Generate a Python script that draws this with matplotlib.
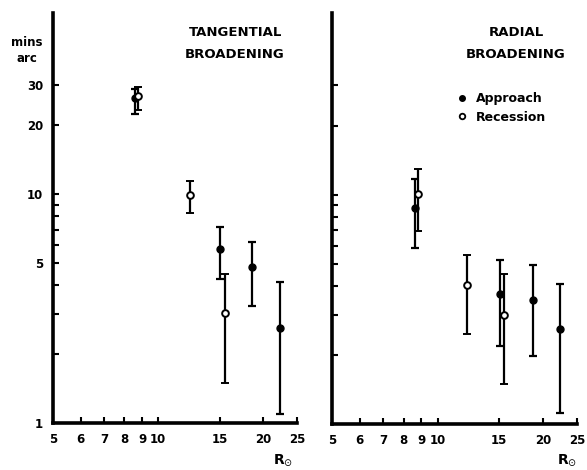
import matplotlib
matplotlib.use("Agg")
import matplotlib.pyplot as plt
from matplotlib.lines import Line2D
from matplotlib.ticker import FixedLocator, FixedFormatter, NullLocator
import numpy as np

# ---- data ----
tang_app_x = [8.6, 15.0, 18.6, 22.3]
tang_app_y = [26.4, 5.74, 4.8, 2.6]
tang_app_lo = [22.4, 4.24, 3.24, 1.1]
tang_app_hi = [28.9, 7.17, 6.2, 4.12]

tang_rec_x = [8.75, 12.35, 15.55]
tang_rec_y = [26.9, 9.9, 3.03]
tang_rec_lo = [23.4, 8.28, 1.49]
tang_rec_hi = [29.4, 11.4, 4.5]

rad_app_x = [8.62, 15.07, 18.7, 22.3]
rad_app_y = [8.73, 3.7, 3.49, 2.6]
rad_app_lo = [5.85, 2.18, 1.98, 1.12]
rad_app_hi = [11.76, 5.18, 4.96, 4.09]

rad_rec_x = [8.78, 12.1, 15.5]
rad_rec_y = [10.1, 4.04, 2.98]
rad_rec_lo = [6.96, 2.48, 1.49]
rad_rec_hi = [13.0, 5.48, 4.49]

x_ticks = [5, 6, 7, 8, 9, 10, 15, 20, 25]
y_ticks = [1, 2, 3, 4, 5, 6, 7, 8, 9, 10, 20, 30]
y_labels = ["1", "", "", "", "5", "", "", "", "", "10", "20", "30"]

plt.rcParams['font.family'] = ['DejaVu Sans']
fig = plt.figure(figsize=(5.87, 4.70), dpi=100)

W, H = 587.0, 470.0
axL = fig.add_axes([53 / W, 47 / H, 244 / W, 410 / H])
axR = fig.add_axes([332 / W, 46 / H, 245 / W, 411 / H])


def err(y, lo, hi):
    y = np.array(y); lo = np.array(lo); hi = np.array(hi)
    return [y - lo, hi - y]


def draw(ax, ax_, ay, alo, ahi, rx, ry, rlo, rhi, ylabels):
    ax.errorbar(ax_, ay, yerr=err(ay, alo, ahi), fmt='o', color='black',
                markersize=5, markerfacecolor='black', ecolor='black',
                elinewidth=1.6, capsize=2.8, capthick=1.6)
    ax.errorbar(rx, ry, yerr=err(ry, rlo, rhi), fmt='o', color='black',
                markersize=4.8, markerfacecolor='white', markeredgewidth=1.4,
                ecolor='black', elinewidth=1.6, capsize=2.8, capthick=1.6,
                zorder=3)
    ax.set_xscale('log')
    ax.set_yscale('log')
    ax.set_xlim(5, 25)
    ax.set_ylim(1, 62)
    ax.xaxis.set_major_locator(FixedLocator(x_ticks))
    ax.xaxis.set_major_formatter(FixedFormatter([str(t) for t in x_ticks]))
    ax.xaxis.set_minor_locator(NullLocator())
    ax.yaxis.set_major_locator(FixedLocator(y_ticks))
    ax.yaxis.set_major_formatter(FixedFormatter(ylabels))
    ax.yaxis.set_minor_locator(NullLocator())
    for s in ['top', 'right']:
        ax.spines[s].set_visible(False)
    for s in ['left', 'bottom']:
        ax.spines[s].set_linewidth(2.6)
    ax.tick_params(direction='in', length=4, width=1.5, labelsize=8.5)
    ax.tick_params(axis='x', pad=7)
    ax.tick_params(axis='y', pad=7)
    for lab in ax.get_xticklabels() + ax.get_yticklabels():
        lab.set_fontweight('bold')


draw(axL, tang_app_x, tang_app_y, tang_app_lo, tang_app_hi,
     tang_rec_x, tang_rec_y, tang_rec_lo, tang_rec_hi, y_labels)
draw(axR, rad_app_x, rad_app_y, rad_app_lo, rad_app_hi,
     rad_rec_x, rad_rec_y, rad_rec_lo, rad_rec_hi, [""] * len(y_ticks))

# titles
tkw = dict(ha='center', va='center', fontsize=9.5, fontweight='bold')
fig.text(236 / W, 1 - 32 / H, "TANGENTIAL", **tkw)
fig.text(235 / W, 1 - 54 / H, "BROADENING", **tkw)
fig.text(516 / W, 1 - 32 / H, "RADIAL", **tkw)
fig.text(516 / W, 1 - 54 / H, "BROADENING", **tkw)

# y axis unit
fig.text(27 / W, 1 - 43 / H, "mins", ha='center', va='center', fontsize=8.5, fontweight='bold')
fig.text(27 / W, 1 - 58 / H, "arc", ha='center', va='center', fontsize=8.5, fontweight='bold')

# x axis labels
fig.text(283 / W, 1 - 460 / H, r"R$_{\odot}$", ha='center', va='center', fontsize=10, fontweight='bold')
fig.text(567 / W, 1 - 460 / H, r"R$_{\odot}$", ha='center', va='center', fontsize=10, fontweight='bold')

# legend
handles = [Line2D([], [], marker='o', linestyle='none', color='black',
                  markerfacecolor='black', markersize=4),
           Line2D([], [], marker='o', linestyle='none', color='black',
                  markerfacecolor='white', markeredgewidth=1.3, markersize=4)]
leg = axR.legend(handles, ["Approach", "Recession"], loc='upper left',
                 bbox_to_anchor=(0.46, 0.835), frameon=False, handlelength=1.0,
                 handletextpad=0.6, labelspacing=0.45,
                 prop={'size': 9, 'weight': 'bold'})

fig.savefig("out.png", dpi=100)
